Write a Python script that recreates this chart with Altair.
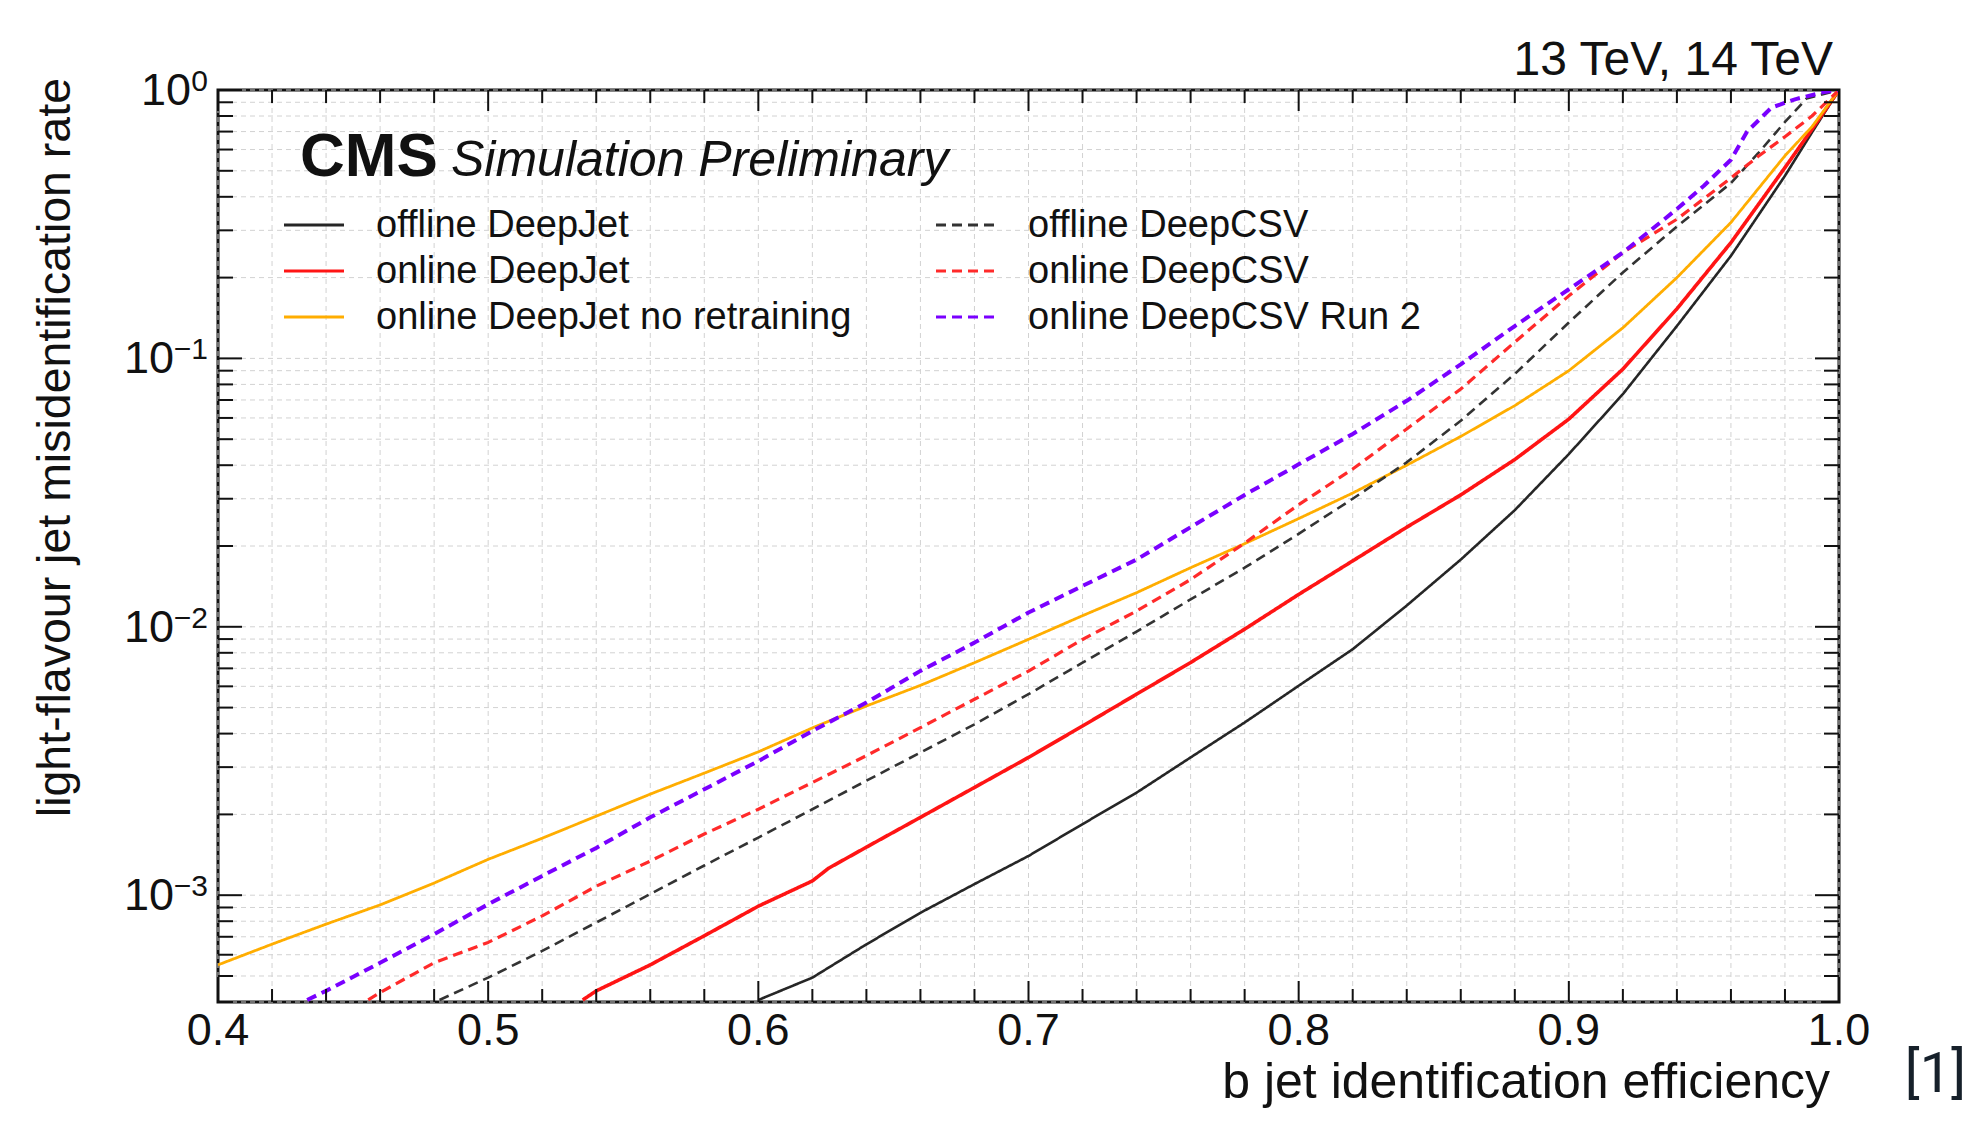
import altair as alt
import pandas as pd

W, H = 1621, 912
FONT = "Liberation Sans"
TXT = "#111111"

series_names = ["offline DeepJet", "online DeepJet", "online DeepJet no retraining",
                "offline DeepCSV", "online DeepCSV", "online DeepCSV Run 2"]
series_colors = ["#262626", "#ff1414", "#ffad00", "#333333", "#ff2a2a", "#7a00ff"]
series_dashes = [[1, 0], [1, 0], [1, 0], [10, 6], [10, 6], [10, 6]]
series_widths = [2.6, 3.6, 2.8, 2.6, 3.2, 4.0]

# offline DeepJet (black solid)
eff_off_dj = [0.600, 0.62, 0.64, 0.66, 0.68, 0.70, 0.72, 0.74, 0.76, 0.78, 0.80, 0.82, 0.84, 0.86,
              0.88, 0.90, 0.92, 0.94, 0.96, 0.98, 0.99, 1.0]
mis_off_dj = [4.07e-4, 4.93e-4, 6.56e-4, 8.6e-4, 1.10e-3, 1.40e-3, 1.84e-3, 2.41e-3, 3.26e-3, 4.40e-3,
              6.03e-3, 8.25e-3, 0.0120, 0.0178, 0.0272, 0.044, 0.0736, 0.132, 0.241, 0.479, 0.695, 1.0]

# online DeepJet (red solid)
eff_on_dj = [0.535, 0.54, 0.56, 0.58, 0.60, 0.62, 0.626, 0.64, 0.66, 0.68, 0.70, 0.72, 0.74, 0.76,
             0.78, 0.80, 0.82, 0.84, 0.86, 0.88, 0.90, 0.92, 0.94, 0.96, 0.98, 0.99, 1.0]
mis_on_dj = [4.07e-4, 4.4e-4, 5.5e-4, 7.06e-4, 9.1e-4, 1.13e-3, 1.26e-3, 1.51e-3, 1.95e-3, 2.52e-3,
             3.26e-3, 4.27e-3, 5.61e-3, 7.36e-3, 9.8e-3, 0.0132, 0.0176, 0.0235, 0.031, 0.042,
             0.0594, 0.0912, 0.153, 0.27, 0.514, 0.714, 1.0]

# online DeepJet no retraining (orange solid)
eff_on_dj_nr = [0.40, 0.42, 0.44, 0.46, 0.48, 0.50, 0.52, 0.54, 0.56, 0.58, 0.60, 0.62, 0.64, 0.66,
                0.68, 0.70, 0.72, 0.74, 0.76, 0.78, 0.80, 0.82, 0.84, 0.86, 0.88, 0.90, 0.92, 0.94,
                0.96, 0.98, 0.99, 1.0]
mis_on_dj_nr = [5.5e-4, 6.57e-4, 7.8e-4, 9.2e-4, 1.11e-3, 1.36e-3, 1.63e-3, 1.97e-3, 2.38e-3, 2.85e-3,
                3.42e-3, 4.2e-3, 5.07e-3, 6.05e-3, 7.35e-3, 8.98e-3, 1.10e-2, 1.34e-2, 1.66e-2,
                2.04e-2, 0.0253, 0.0315, 0.040, 0.0512, 0.0667, 0.090, 0.130, 0.200, 0.321, 0.569,
                0.73, 1.0]

# offline DeepCSV (black dashed)
eff_off_csv = [0.482, 0.50, 0.52, 0.54, 0.56, 0.58, 0.60, 0.62, 0.64, 0.66, 0.68, 0.70, 0.72, 0.74,
               0.76, 0.78, 0.80, 0.82, 0.84, 0.86, 0.88, 0.90, 0.92, 0.94, 0.96, 0.97, 0.98, 0.988, 1.0]
mis_off_csv = [4.07e-4, 4.93e-4, 6.2e-4, 7.91e-4, 1.01e-3, 1.29e-3, 1.64e-3, 2.09e-3, 2.67e-3, 3.40e-3,
               4.33e-3, 5.61e-3, 7.35e-3, 9.6e-3, 0.01265, 0.0166, 0.0222, 0.030, 0.041, 0.0586,
               0.0875, 0.136, 0.209, 0.31, 0.45, 0.58, 0.76, 0.93, 1.0]

# online DeepCSV (red dashed)
eff_on_csv = [0.4556, 0.46, 0.48, 0.50, 0.52, 0.54, 0.56, 0.58, 0.60, 0.62, 0.64, 0.66, 0.68, 0.70,
              0.72, 0.74, 0.76, 0.78, 0.80, 0.82, 0.84, 0.86, 0.88, 0.90, 0.92, 0.94, 0.96, 0.97,
              0.98, 0.99, 1.0]
mis_on_csv = [4.07e-4, 4.34e-4, 5.6e-4, 6.67e-4, 8.37e-4, 1.08e-3, 1.34e-3, 1.69e-3, 2.09e-3, 2.63e-3,
              3.31e-3, 4.21e-3, 5.37e-3, 6.84e-3, 8.97e-3, 0.01145, 0.0150, 0.0205, 0.0285, 0.0387,
              0.0546, 0.0769, 0.115, 0.171, 0.248, 0.33, 0.47, 0.565, 0.67, 0.80, 1.0]

# online DeepCSV Run 2 (violet dashed)
eff_run2 = [0.433, 0.44, 0.46, 0.48, 0.50, 0.52, 0.54, 0.56, 0.58, 0.60, 0.62, 0.64, 0.66, 0.68,
            0.70, 0.72, 0.74, 0.76, 0.78, 0.80, 0.82, 0.84, 0.86, 0.88, 0.90, 0.92, 0.94, 0.95,
            0.96, 0.966, 0.975, 0.984, 0.994, 1.0]
mis_run2 = [4.07e-4, 4.4e-4, 5.6e-4, 7.16e-4, 9.25e-4, 1.18e-3, 1.50e-3, 1.95e-3, 2.48e-3, 3.16e-3,
            4.09e-3, 5.22e-3, 6.85e-3, 8.73e-3, 0.0113, 0.0142, 0.0178, 0.0235, 0.031, 0.0403,
            0.0523, 0.0695, 0.095, 0.132, 0.181, 0.248, 0.36, 0.44, 0.55, 0.70, 0.86, 0.925, 0.98, 1.0]

x_label_values = [0.4, 0.5, 0.6, 0.7, 0.8, 0.9, 1.0]
x_label_texts = ["0.4", "0.5", "0.6", "0.7", "0.8", "0.9", "1.0"]
x_minor_values = [0.42, 0.44, 0.46, 0.48, 0.52, 0.54, 0.56, 0.58, 0.62, 0.64, 0.66, 0.68,
                  0.72, 0.74, 0.76, 0.78, 0.82, 0.84, 0.86, 0.88, 0.92, 0.94, 0.96, 0.98]
y_major_values = [1e-3, 1e-2, 1e-1, 1.0]
y_minor_values = [4e-4, 5e-4, 6e-4, 7e-4, 8e-4, 9e-4,
                  2e-3, 3e-3, 4e-3, 5e-3, 6e-3, 7e-3, 8e-3, 9e-3,
                  2e-2, 3e-2, 4e-2, 5e-2, 6e-2, 7e-2, 8e-2, 9e-2,
                  2e-1, 3e-1, 4e-1, 5e-1, 6e-1, 7e-1, 8e-1, 9e-1]
y_label_values = [1.0, 0.1, 0.01, 0.001]
y_label_exps = ["0", "\u22121", "\u22122", "\u22123"]

curves = [(eff_off_dj, mis_off_dj), (eff_on_dj, mis_on_dj), (eff_on_dj_nr, mis_on_dj_nr),
          (eff_off_csv, mis_off_csv), (eff_on_csv, mis_on_csv), (eff_run2, mis_run2)]
rows = []
for name, (e, m) in zip(series_names, curves):
    for a, b in zip(e, m):
        rows.append({"series": name, "eff": a, "mis": b})
df = pd.DataFrame(rows)

xs = alt.Scale(domain=[0.4, 1.0], nice=False, zero=False)
ys = alt.Scale(type="log", domain=[4e-4, 1.0], nice=False)
col_scale = alt.Scale(domain=series_names, range=series_colors)
dash_scale = alt.Scale(domain=series_names, range=series_dashes)

layers = []

# grid
grid_x = alt.Chart(pd.DataFrame({"v": x_label_values + x_minor_values})).mark_rule(
    color="#d2d2d2", strokeWidth=1, strokeDash=[5, 4]
).encode(x=alt.X("v:Q", scale=xs, axis=None))
grid_y = alt.Chart(pd.DataFrame({"v": y_major_values + y_minor_values})).mark_rule(
    color="#d2d2d2", strokeWidth=1, strokeDash=[5, 4]
).encode(y=alt.Y("v:Q", scale=ys, axis=None))
layers += [grid_x, grid_y]

# curves
for name, w in zip(series_names, series_widths):
    layers.append(
        alt.Chart(df).transform_filter(alt.datum.series == name).mark_line(
            strokeWidth=w, clip=True, strokeJoin="round"
        ).encode(
            x=alt.X("eff:Q", scale=xs, axis=None),
            y=alt.Y("mis:Q", scale=ys, axis=None),
            color=alt.Color("series:N", scale=col_scale, legend=None),
            strokeDash=alt.StrokeDash("series:N", scale=dash_scale, legend=None),
        )
    )

# inner ticks (ROOT style)
TK = "#111111"
def xticks(vals, length):
    d = pd.DataFrame({"v": vals})
    b = alt.Chart(d).mark_rule(color=TK, strokeWidth=2).encode(
        x=alt.X("v:Q", scale=xs, axis=None), y=alt.value(H), y2=alt.value(H - length))
    t = alt.Chart(d).mark_rule(color=TK, strokeWidth=2).encode(
        x=alt.X("v:Q", scale=xs, axis=None), y=alt.value(0), y2=alt.value(length))
    return [b, t]

def yticks(vals, length):
    d = pd.DataFrame({"v": vals})
    l = alt.Chart(d).mark_rule(color=TK, strokeWidth=2).encode(
        y=alt.Y("v:Q", scale=ys, axis=None), x=alt.value(0), x2=alt.value(length))
    r = alt.Chart(d).mark_rule(color=TK, strokeWidth=2).encode(
        y=alt.Y("v:Q", scale=ys, axis=None), x=alt.value(W), x2=alt.value(W - length))
    return [l, r]

layers += xticks(x_label_values, 21) + xticks(x_minor_values, 13)
layers += yticks(y_major_values, 24) + yticks(y_minor_values, 15)

# x tick labels
layers.append(
    alt.Chart(pd.DataFrame({"v": x_label_values, "s": x_label_texts})).mark_text(
        font=FONT, fontSize=45, align="center", baseline="alphabetic", color=TXT
    ).encode(x=alt.X("v:Q", scale=xs, axis=None), y=alt.value(H + 43), text="s:N")
)

# y tick labels 10^k
for v, e in zip(y_label_values, y_label_exps):
    d = pd.DataFrame({"v": [v], "e": [e], "b": ["10"]})
    layers.append(alt.Chart(d).mark_text(
        font=FONT, fontSize=45, align="right", baseline="alphabetic", dy=15, color=TXT
    ).encode(y=alt.Y("v:Q", scale=ys, axis=None), x=alt.value(-10 - 17 * len(e)), text="b:N"))
    layers.append(alt.Chart(d).mark_text(
        font=FONT, fontSize=30, align="right", baseline="alphabetic", dy=1, color=TXT
    ).encode(y=alt.Y("v:Q", scale=ys, axis=None), x=alt.value(-10), text="e:N"))


def label(txt, x, y, **kw):
    kw.setdefault("font", FONT)
    kw.setdefault("color", TXT)
    kw.setdefault("baseline", "alphabetic")
    return alt.Chart(pd.DataFrame({"t": [txt]})).mark_text(**kw).encode(
        text="t:N", x=alt.value(x), y=alt.value(y))

# legend
for i, name in enumerate(series_names):
    c, r = i // 3, i % 3
    lx0 = 66 if c == 0 else 718
    ly = 135 + 46 * r
    layers.append(
        alt.Chart(pd.DataFrame({"series": [name]})).mark_rule(strokeWidth=3).encode(
            x=alt.value(lx0), x2=alt.value(lx0 + 60), y=alt.value(ly),
            color=alt.Color("series:N", scale=col_scale, legend=None),
            strokeDash=alt.StrokeDash("series:N", scale=dash_scale, legend=None),
        )
    )
    layers.append(label(name, lx0 + 92, ly + 12, fontSize=38, align="left"))

# texts
layers.append(label("CMS", 82, 86, fontSize=62, fontWeight="bold", align="left"))
layers.append(label("Simulation Preliminary", 233, 86, fontSize=50, fontStyle="italic", align="left"))
layers.append(label("13 TeV, 14 TeV", 1615, -15, fontSize=48, align="right"))
layers.append(label("b jet identification efficiency", 1612, 1008, fontSize=50, align="right"))
layers.append(label("light-flavour jet misidentification rate", -148, -12, fontSize=46.5,
                    align="right", angle=270))
layers.append(label("[1]", 1748, 1002, fontSize=56, align="right", font="Roboto", color="#16202a"))

chart = alt.layer(*layers).properties(
    width=W, height=H,
    padding={"left": 210, "top": 82, "right": 131, "bottom": 114},
    autosize=alt.AutoSizeParams(type="none"),
    background="white",
).configure_view(stroke="#111111", strokeWidth=3)

chart.save("out.html", embed_options={"renderer": "svg", "actions": False})
